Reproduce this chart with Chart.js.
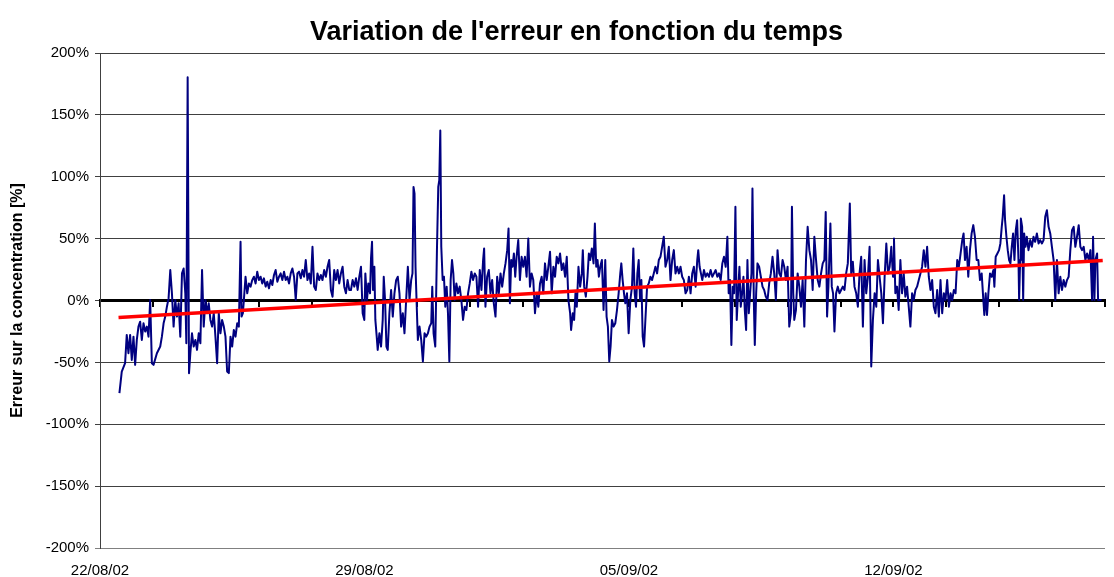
<!DOCTYPE html>
<html><head><meta charset="utf-8">
<script src="https://cdn.jsdelivr.net/npm/chart.js@4.4.1/dist/chart.umd.min.js"></script>
<style>html,body{margin:0;padding:0;background:#fff}canvas{display:block}</style>
</head><body>
<canvas id="c" width="1114" height="577"></canvas>
<script>
const chartTitle = "Variation de l'erreur en fonction du temps";
const yAxisTitle = "Erreur sur la concentration [%]";
const xTickLabels = ['22/08/02', '29/08/02', '05/09/02', '12/09/02'];
const xTickStepDays = 1.4;
const xMaxDays = 26.6;
const yTickStep = 50;

// [days since 22/08/02 00:00, error %]
const errorSeries = [
[0.514,-74.9],[0.576,-57.4],[0.664,-50.7],[0.708,-27.8],[0.753,-42.6],[0.797,-27.8],[0.841,-48.0],[0.886,-29.2],[0.930,-52.0],[0.974,-31.9],[1.018,-21.1],[1.063,-17.1],[1.107,-31.9],[1.151,-18.4],[1.196,-25.1],[1.240,-21.1],[1.284,-29.2],[1.328,0.4],[1.373,-50.7],[1.417,-52.0],[1.506,-42.6],[1.594,-37.2],[1.638,-29.2],[1.683,-18.4],[1.727,-13.0],[1.771,-5.0],[1.815,1.7],[1.860,24.6],[1.904,5.8],[1.948,-21.1],[1.993,0.4],[2.037,-13.0],[2.081,-2.3],[2.125,-29.2],[2.170,21.9],[2.214,25.9],[2.258,5.8],[2.285,-34.5],[2.320,180.5],[2.356,-58.7],[2.391,-42.6],[2.435,-26.5],[2.480,-37.2],[2.524,-31.9],[2.568,-39.9],[2.613,-26.5],[2.657,-34.5],[2.701,24.6],[2.745,-21.1],[2.790,0.4],[2.834,-10.3],[2.878,-2.3],[2.922,-15.7],[2.967,-21.1],[3.011,-10.3],[3.055,-29.2],[3.100,-50.7],[3.144,-10.3],[3.188,-26.5],[3.232,-15.7],[3.277,-21.1],
[3.321,-29.2],[3.365,-57.4],[3.410,-58.7],[3.454,-29.2],[3.498,-37.2],[3.542,-23.8],[3.587,-29.2],[3.631,-18.4],[3.675,-21.1],[3.720,47.4],[3.746,-13.0],[3.782,-10.3],[3.808,0.4],[3.852,19.2],[3.897,5.8],[3.941,13.8],[3.985,11.2],[4.029,16.5],[4.074,19.2],[4.118,13.8],[4.162,23.3],[4.207,16.5],[4.251,19.2],[4.295,13.8],[4.339,17.9],[4.384,11.2],[4.428,15.2],[4.472,9.8],[4.517,16.5],[4.561,12.5],[4.605,20.6],[4.649,24.6],[4.694,15.2],[4.738,19.2],[4.782,21.9],[4.826,16.5],[4.871,23.3],[4.915,16.5],[4.959,19.2],[5.004,13.8],[5.048,21.9],[5.092,25.9],[5.136,19.2],[5.181,0.4],[5.225,21.9],[5.269,23.3],[5.314,17.9],[5.358,24.6],[5.402,19.2],[5.446,32.7],[5.491,16.5],[5.535,21.9],[5.579,13.8],[5.624,43.4],[5.668,11.2],[5.712,8.5],[5.756,21.9],[5.801,16.5],[5.845,20.6],[5.889,16.5],[5.933,24.6],[5.978,19.2],[6.022,27.3],[6.066,32.7],[6.111,8.5],[6.155,3.1],[6.199,24.6],[6.243,16.5],[6.288,24.6],[6.332,13.8],[6.376,21.9],[6.421,27.3],[6.465,11.2],[6.509,5.8],[6.553,16.5],[6.598,8.5],
[6.642,8.5],[6.686,16.5],[6.731,11.2],[6.775,17.9],[6.819,8.5],[6.863,19.2],[6.908,27.3],[6.952,-10.3],[6.996,-15.7],[7.023,21.9],[7.067,0.4],[7.102,13.8],[7.147,5.8],[7.173,34.0],[7.200,47.4],[7.226,8.5],[7.262,27.3],[7.288,-15.7],[7.324,-29.2],[7.350,-39.9],[7.395,-26.5],[7.439,-37.2],[7.483,-15.7],[7.510,19.2],[7.545,0.4],[7.581,-37.2],[7.616,-39.9],[7.660,-10.3],[7.705,8.5],[7.749,-13.0],[7.793,5.8],[7.838,16.5],[7.882,19.2],[7.926,5.8],[7.970,-21.1],[8.015,-10.3],[8.059,-26.5],[8.103,0.4],[8.148,27.3],[8.192,0.4],[8.236,16.5],[8.271,21.9],[8.298,91.8],[8.325,86.4],[8.351,27.3],[8.378,0.4],[8.413,-31.9],[8.457,-21.1],[8.502,-31.9],[8.546,-49.3],[8.590,-26.5],[8.634,-29.2],[8.679,-26.5],[8.723,-21.1],[8.767,-18.4],[8.794,11.2],[8.829,-26.5],[8.874,-37.2],[8.918,40.7],[8.953,91.8],[8.980,97.2],[9.007,137.4],[9.033,43.4],[9.069,16.5],[9.104,19.2],[9.139,-5.0],[9.175,11.2],[9.210,-10.3],[9.246,-49.3],[9.281,16.5],[9.317,32.7],[9.352,21.9],[9.387,0.4],[9.432,13.8],[9.476,5.8],[9.520,11.2],[9.564,0.4],[9.609,-15.7],[9.653,-5.0],[9.697,-7.7],[9.742,5.8],[9.786,13.8],[9.830,23.3],[9.874,16.5],[9.919,21.9],
[9.963,19.2],[10.007,-5.0],[10.052,24.6],[10.096,8.5],[10.140,32.7],[10.167,42.1],[10.202,-5.0],[10.246,19.2],[10.291,24.6],[10.335,5.8],[10.379,16.5],[10.423,-2.3],[10.468,-13.0],[10.512,19.2],[10.556,5.8],[10.601,21.9],[10.645,11.2],[10.689,21.9],[10.733,30.0],[10.778,40.7],[10.813,58.2],[10.849,-2.3],[10.884,32.7],[10.919,27.3],[10.955,38.0],[10.990,19.2],[11.026,35.3],[11.070,48.8],[11.114,16.5],[11.159,35.3],[11.203,27.3],[11.247,35.3],[11.291,19.2],[11.336,50.1],[11.380,11.2],[11.424,21.9],[11.468,16.5],[11.513,-10.3],[11.557,5.8],[11.601,-5.0],[11.646,13.8],[11.690,19.2],[11.734,5.8],[11.778,30.0],[11.823,16.5],[11.867,27.3],[11.911,39.4],[11.956,5.8],[12.000,27.3],[12.044,19.2],[12.088,35.3],[12.133,30.0],[12.177,38.0],[12.221,24.6],[12.265,30.0],[12.310,19.2],[12.354,35.3],[12.398,0.4],[12.443,-10.3],[12.469,-23.8],[12.513,-10.3],[12.549,-15.7],[12.584,5.8],[12.620,-5.0],[12.664,27.3],[12.708,11.2],[12.753,21.9],[12.779,40.7],[12.815,11.2],[12.859,3.1],[12.903,19.2],[12.939,38.0],[12.974,32.7],[13.018,42.1],[13.063,30.0],[13.098,62.2],[13.134,27.3],[13.169,32.7],[13.204,19.2],[13.240,27.3],
[13.284,32.7],[13.328,-7.7],[13.373,32.7],[13.408,-13.0],[13.443,-21.1],[13.479,-49.3],[13.514,-37.2],[13.550,-15.7],[13.594,-21.1],[13.638,-18.4],[13.683,-7.7],[13.727,5.8],[13.771,21.9],[13.798,30.0],[13.833,16.5],[13.869,5.8],[13.904,-2.3],[13.948,5.8],[13.992,-26.5],[14.037,0.4],[14.081,11.2],[14.116,42.1],[14.152,5.8],[14.187,-5.0],[14.223,21.9],[14.258,32.7],[14.294,0.4],[14.329,16.5],[14.364,-29.2],[14.400,-37.2],[14.435,-15.7],[14.480,11.2],[14.524,13.8],[14.568,19.2],[14.612,16.5],[14.657,21.9],[14.701,27.3],[14.745,21.9],[14.790,32.7],[14.834,35.3],[14.878,43.4],[14.922,51.5],[14.967,27.3],[15.011,32.7],[15.055,43.4],[15.100,16.5],[15.144,32.7],[15.188,40.7],[15.232,21.9],[15.277,27.3],[15.321,21.9],[15.365,27.3],[15.409,19.2],[15.454,16.5],[15.498,5.8],[15.542,8.5],[15.587,19.2],[15.631,5.8],[15.675,21.9],[15.719,27.3],[15.764,11.2],[15.808,32.7],[15.834,40.7],[15.870,27.3],[15.905,21.9],[15.941,16.5],[15.985,24.6],[16.029,19.2],[16.073,21.9],[16.118,19.2],[16.162,24.6],[16.206,19.2],[16.251,21.9],[16.295,24.6],[16.339,19.2],[16.383,21.9],[16.428,16.5],[16.472,30.0],[16.516,35.3],[16.561,27.3],
[16.605,51.5],[16.640,5.8],[16.676,16.5],[16.711,-35.9],[16.747,11.2],[16.782,5.8],[16.818,75.7],[16.853,-15.7],[16.888,5.8],[16.924,27.3],[16.959,-5.0],[16.995,5.8],[17.030,19.2],[17.066,-7.7],[17.101,-23.8],[17.136,32.7],[17.172,-10.3],[17.207,5.8],[17.243,21.9],[17.269,90.5],[17.305,0.4],[17.331,-35.9],[17.367,5.8],[17.402,30.0],[17.446,27.3],[17.491,19.2],[17.535,11.2],[17.579,8.5],[17.623,3.1],[17.668,0.4],[17.712,13.8],[17.756,21.9],[17.800,35.3],[17.845,21.9],[17.889,0.4],[17.933,40.7],[17.978,21.9],[18.022,19.2],[18.066,32.7],[18.110,27.3],[18.155,16.5],[18.199,27.3],[18.243,-21.1],[18.288,-10.3],[18.314,75.7],[18.349,5.8],[18.376,-15.7],[18.420,-7.7],[18.465,21.9],[18.509,11.2],[18.553,-5.0],[18.597,16.5],[18.642,-21.1],[18.686,32.7],[18.730,59.5],[18.775,40.7],[18.819,32.7],[18.863,8.5],[18.907,51.5],[18.952,32.7],[18.996,16.5],[19.040,11.2],[19.085,21.9],[19.129,30.0],[19.173,32.7],[19.208,71.6],[19.244,-13.0],[19.279,11.2],[19.332,62.2],[19.368,11.2],[19.403,5.8],[19.439,-25.1],[19.483,5.8],[19.527,11.2],[19.572,5.8],[19.616,8.5],[19.660,11.2],[19.705,8.5],[19.749,21.9],[19.793,30.0],[19.846,78.4],[19.882,21.9],
[19.926,31.3],[19.970,11.2],[20.015,5.8],[20.059,-5.0],[20.103,21.9],[20.147,35.3],[20.192,-21.1],[20.236,32.7],[20.280,5.8],[20.325,19.2],[20.369,43.4],[20.413,-53.4],[20.457,-15.7],[20.502,5.8],[20.546,-5.0],[20.590,32.7],[20.634,19.2],[20.679,5.8],[20.723,-18.4],[20.767,19.2],[20.812,46.1],[20.856,21.9],[20.900,27.3],[20.944,43.4],[20.989,19.2],[21.015,50.1],[21.051,5.8],[21.095,11.2],[21.139,-7.7],[21.184,32.7],[21.228,5.8],[21.272,21.9],[21.316,3.1],[21.361,11.2],[21.405,-5.0],[21.449,-21.1],[21.494,5.8],[21.538,0.4],[21.582,8.5],[21.626,11.2],[21.671,16.5],[21.715,21.9],[21.759,27.3],[21.803,40.7],[21.848,27.3],[21.892,43.4],[21.936,19.2],[21.981,8.5],[22.025,16.5],[22.069,-5.0],[22.113,-10.3],[22.158,8.5],[22.202,-13.0],[22.246,16.5],[22.291,-10.3],[22.335,5.8],[22.379,0.4],[22.423,16.5],[22.468,-5.0],[22.512,5.8],[22.556,0.4],[22.600,8.5],[22.645,5.8],[22.689,32.7],[22.733,27.3],[22.778,38.0],[22.822,48.8],[22.857,54.2],[22.893,32.7],[22.937,43.4],[22.981,19.2],[23.025,40.7],[23.070,54.2],[23.114,60.9],[23.158,51.5],[23.203,32.7],
[23.247,32.7],[23.291,16.5],[23.336,21.9],[23.380,0.4],[23.406,-11.7],[23.442,5.8],[23.477,-11.7],[23.513,5.8],[23.557,21.9],[23.601,19.2],[23.646,24.6],[23.672,11.2],[23.707,35.3],[23.752,38.0],[23.796,40.7],[23.831,46.1],[23.867,59.5],[23.893,67.6],[23.929,85.1],[23.955,64.9],[23.991,51.5],[24.026,40.7],[24.062,32.7],[24.097,30.0],[24.132,43.4],[24.168,54.2],[24.203,32.7],[24.239,56.9],[24.274,64.9],[24.310,32.7],[24.327,0.4],[24.354,32.7],[24.372,66.3],[24.407,59.5],[24.434,0.4],[24.460,54.2],[24.496,43.4],[24.531,51.5],[24.575,40.7],[24.620,48.8],[24.664,43.4],[24.708,51.5],[24.752,47.4],[24.797,54.2],[24.841,46.1],[24.885,48.8],[24.930,46.1],[24.974,48.8],[25.018,67.6],[25.062,73.0],[25.107,59.5],[25.151,54.2],[25.195,43.4],[25.240,32.7],[25.284,0.4],[25.328,32.7],[25.372,5.8],[25.417,19.2],[25.461,8.5],[25.505,16.5],[25.550,11.2],[25.594,16.5],[25.638,19.2],[25.682,40.7],[25.727,56.9],[25.771,59.5],[25.815,43.4],[25.859,51.5],[25.904,60.9],[25.948,43.4],[25.992,40.7],[26.037,43.4],[26.081,32.7],[26.125,38.0],[26.169,32.7],[26.214,40.7],[26.258,0.4],[26.284,51.5],[26.320,0.4],[26.346,32.7],[26.391,38.0],[26.417,0.4],[26.461,0.4],[26.506,0.4]
];

const trendDays = [0.49, 26.54];
const trendPct = [-13.8, 32.4];

const titleShift = {
  id: 'titleShift',
  afterLayout(chart) {
    const t = chart.titleBlock;
    if (t) { t.left = 48; t.right = chart.chartArea.right; t.width = t.right - t.left; }
  }
};

Chart.defaults.font.family = "'Liberation Sans', Arial, sans-serif";
Chart.defaults.color = '#000';

new Chart(document.getElementById('c'), {
  type: 'line',
  data: {
    datasets: [
      {
        label: 'Erreur',
        data: errorSeries.map(p => ({ x: p[0], y: p[1] })),
        borderColor: '#000080',
        borderWidth: 2,
        borderJoinStyle: 'round',
        pointRadius: 0,
        tension: 0,
        order: 2
      },
      {
        label: 'Tendance',
        data: trendDays.map((x, i) => ({ x: x, y: trendPct[i] })),
        borderColor: '#FF0000',
        borderWidth: 3.5,
        pointRadius: 0,
        tension: 0,
        order: 1
      }
    ]
  },
  options: {
    responsive: false,
    animation: false,
    devicePixelRatio: 1,
    layout: { padding: { left: 0, right: 9, top: 0, bottom: 0 } },
    plugins: {
      legend: { display: false },
      tooltip: { enabled: false },
      title: {
        display: true,
        text: chartTitle,
        color: '#000',
        font: { size: 27, weight: 'bold' },
        padding: { top: 16, bottom: 4.6 }
      }
    },
    scales: {
      x: {
        type: 'linear',
        position: 'bottom',
        min: 0,
        max: xMaxDays,
        afterFit(s) { s.height = 29; },
        grid: { display: false },
        border: { display: false },
        ticks: {
          stepSize: xTickStepDays,
          autoSkip: false,
          maxRotation: 0,
          padding: 6,
          color: '#000',
          font: { size: 15 },
          callback(v, i) { return i % 5 === 0 ? (xTickLabels[i / 5] || '') : ''; }
        }
      },
      x2: {
        type: 'linear',
        axis: 'x',
        position: { y: 0 },
        min: 0,
        max: xMaxDays,
        grid: { display: true, drawOnChartArea: false, drawTicks: true, tickLength: 5, color: '#000', lineWidth: 2 },
        border: { display: true, color: '#000', width: 3 },
        ticks: { display: false, stepSize: xTickStepDays, autoSkip: false }
      },
      y: {
        type: 'linear',
        position: 'left',
        min: -200,
        max: 200,
        afterFit(s) { s.width = 100; },
        ticks: {
          stepSize: yTickStep,
          padding: 6,
          color: '#000',
          font: { size: 15 },
          callback: v => v + '%'
        },
        grid: {
          color: c => (c.tick && c.tick.value === -200) ? '#808080' : '#404040',
          lineWidth: 1,
          drawTicks: true,
          tickLength: 5
        },
        border: { display: true, color: '#404040', width: 1 },
        title: {
          display: true,
          text: yAxisTitle,
          color: '#000',
          font: { size: 16, weight: 'bold' },
          padding: { top: 8, bottom: 0 }
        }
      }
    }
  },
  plugins: [titleShift]
});
</script>
</body></html>
